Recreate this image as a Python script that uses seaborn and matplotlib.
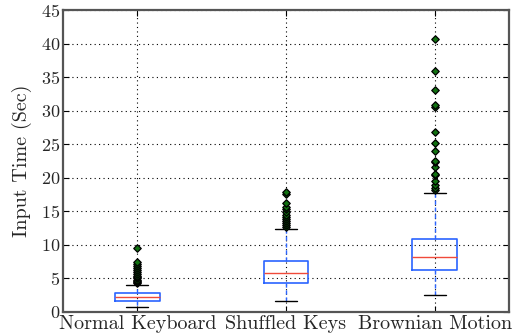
import matplotlib
matplotlib.use("Agg")
import matplotlib.pyplot as plt
import seaborn as sns
import pandas as pd

categories = ["Normal Keyboard", "Shuffled Keys", "Brownian Motion"]
q1 = [1.68, 4.35, 6.3]
median = [2.19, 5.75, 8.23]
q3 = [2.83, 7.65, 10.9]
whisker_low = [0.79, 1.65, 2.56]
whisker_high = [4.07, 12.35, 17.8]
outliers = [
    [4.3, 4.45, 4.6, 4.8, 5.0, 5.2, 5.4, 5.7, 6.0, 6.3, 6.6, 6.9, 7.2, 7.5, 9.5],
    [12.6, 12.9, 13.2, 13.5, 13.8, 14.1, 14.5, 14.9, 15.3, 15.7, 16.2, 17.6, 17.85],
    [18.2, 18.5, 19.0, 19.5, 20.35, 20.55, 21.6, 22.3, 22.5, 24.0, 25.25,
     26.8, 30.6, 30.8, 33.05, 35.9, 40.7],
]
y_ticks = [0, 5, 10, 15, 20, 25, 30, 35, 40, 45]

sns.set_style("white")
plt.rcParams["font.family"] = ["cmr10", "DejaVu Serif"]
plt.rcParams["axes.formatter.use_mathtext"] = True
plt.rcParams["mathtext.fontset"] = "cm"

fig = plt.figure(figsize=(5.19, 3.35), dpi=100)
ax = fig.add_axes([0.1214, 0.0687, 0.8593, 0.9013])

flier_df = pd.DataFrame(
    [(c, v) for c, vals in zip(categories, outliers) for v in vals],
    columns=["cat", "val"],
)
sns.stripplot(data=flier_df, x="cat", y="val", order=categories, jitter=False,
              marker="D", size=3.8, color="#107010", edgecolor="black",
              linewidth=0.9, ax=ax, zorder=4)

stats = []
for i, c in enumerate(categories):
    stats.append(dict(label=c, q1=q1[i], med=median[i], q3=q3[i],
                      whislo=whisker_low[i], whishi=whisker_high[i], fliers=[]))
ax.bxp(stats, positions=range(len(categories)), widths=0.3, showfliers=False,
       boxprops=dict(color="#2a64ff", linewidth=1.2),
       medianprops=dict(color="#f04a3a", linewidth=1.0),
       whiskerprops=dict(color="#2a64ff", linestyle=(0, (3, 2)), linewidth=1.0),
       capprops=dict(color="black", linewidth=1.0))

ax.set_xlim(-0.5, 2.5)
ax.set_ylim(0, 45)
ax.set_yticks(y_ticks)
ax.set_xticks(range(len(categories)))
ax.set_xticklabels(categories, fontsize=14.5)
ax.tick_params(axis="y", labelsize=13)
ax.set_xlabel("")
ax.set_ylabel("Input Time (Sec)", fontsize=14.5, labelpad=6)
ax.grid(True, color="black", linestyle=(0, (1, 3)), linewidth=0.8)
ax.set_axisbelow(True)
ax.tick_params(direction="in", length=4, top=True, right=True, left=True,
               bottom=True, pad=2, color="black")
for s in ax.spines.values():
    s.set_color("#555555")
    s.set_linewidth(1.6)

fig.savefig("out.png", dpi=100)
